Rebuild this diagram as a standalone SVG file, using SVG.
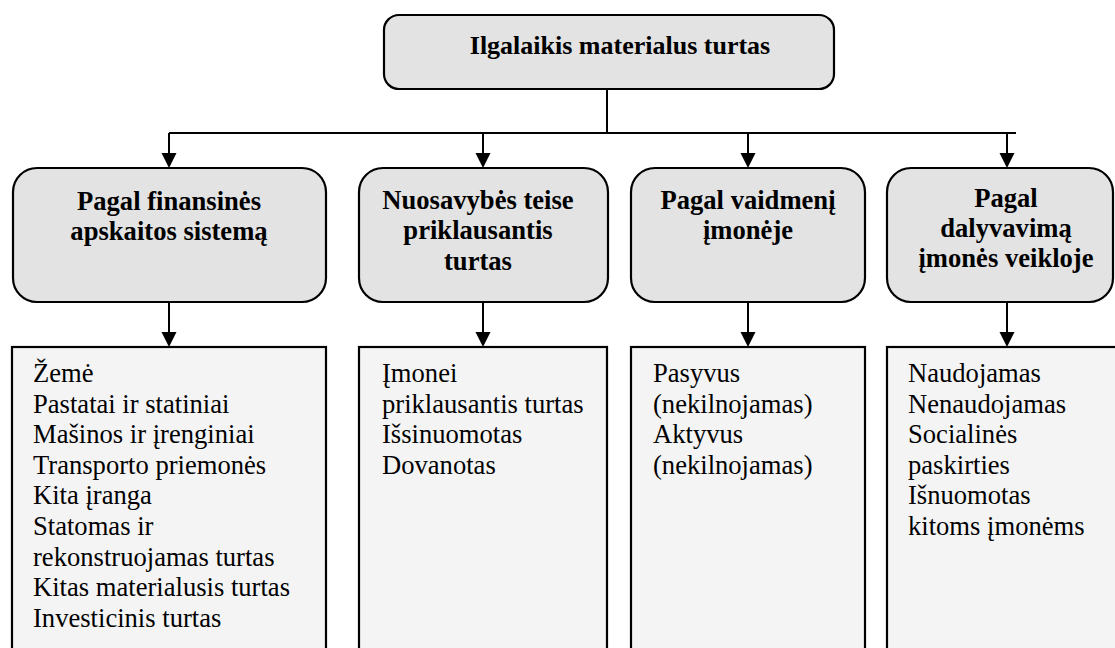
<svg xmlns="http://www.w3.org/2000/svg" width="1115" height="648" viewBox="0 0 1115 648">
  <style>
    .head { fill: #e3e3e3; stroke: #000; stroke-width: 2.2; }
    .list { fill: #f4f4f4; stroke: #000; stroke-width: 2.2; }
    .bold { font-weight: bold; font-size: 26.6px; fill: #000; text-anchor: middle; }
    .title { font-weight: bold; font-size: 26px; fill: #000; text-anchor: middle; }
    .item { font-size: 26.6px; fill: #000; }
    .wire { fill: none; stroke: #000; stroke-width: 2; }
    .tip { fill: #000; stroke: none; }
  </style>
  <defs>
    <!-- downward arrowhead, tip at the origin -->
    <path id="tip" d="M-7.5,-15 L7.5,-15 L0,0 Z"/>
  </defs>

  <!-- connectors -->
  <g id="connectors">
    <g class="wire">
      <path d="M607,89 V133"/>
      <path d="M169,133 H1016"/>
      <path d="M169,133 V156"/>
      <path d="M483,133 V156"/>
      <path d="M748,133 V156"/>
      <path d="M1007,133 V156"/>
      <path d="M169,302 V335"/>
      <path d="M483,302 V335"/>
      <path d="M748,302 V335"/>
      <path d="M1007,302 V335"/>
    </g>
    <g class="tip">
      <use href="#tip" x="169" y="168"/>
      <use href="#tip" x="483" y="168"/>
      <use href="#tip" x="748" y="168"/>
      <use href="#tip" x="1007" y="168"/>
      <use href="#tip" x="169" y="347"/>
      <use href="#tip" x="483" y="347"/>
      <use href="#tip" x="748" y="347"/>
      <use href="#tip" x="1007" y="347"/>
    </g>
  </g>

  <g font-family="'Liberation Serif', 'Times New Roman', serif">
  <!-- root -->
  <g id="root">
    <rect class="head" x="384" y="15" width="450" height="74" rx="15"/>
    <text class="title" x="620" y="54">Ilgalaikis materialus turtas</text>
  </g>

  <!-- category headers -->
  <g id="cat-finance">
    <rect class="head" x="13" y="168" width="313" height="134" rx="24"/>
    <text class="bold" x="169" y="210">Pagal finansinės</text>
    <text class="bold" x="169" y="240">apskaitos sistemą</text>
  </g>
  <g id="cat-ownership">
    <rect class="head" x="359" y="168" width="249" height="134" rx="24"/>
    <text class="bold" x="478" y="209">Nuosavybės teise</text>
    <text class="bold" x="478" y="239">priklausantis</text>
    <text class="bold" x="478" y="270">turtas</text>
  </g>
  <g id="cat-role">
    <rect class="head" x="631" y="168" width="234" height="134" rx="24"/>
    <text class="bold" x="748" y="209">Pagal vaidmenį</text>
    <text class="bold" x="748" y="239">įmonėje</text>
  </g>
  <g id="cat-activity">
    <rect class="head" x="887" y="168" width="226" height="134" rx="24"/>
    <text class="bold" x="1006" y="207">Pagal</text>
    <text class="bold" x="1006" y="237">dalyvavimą</text>
    <text class="bold" x="1006" y="267">įmonės veikloje</text>
  </g>

  <!-- item lists -->
  <g id="list-finance">
    <rect class="list" x="12" y="347" width="314" height="320"/>
    <text class="item" x="33" y="382">Žemė</text>
    <text class="item" x="33" y="412.6">Pastatai ir statiniai</text>
    <text class="item" x="33" y="443.2">Mašinos ir įrenginiai</text>
    <text class="item" x="33" y="473.8">Transporto priemonės</text>
    <text class="item" x="33" y="504.4">Kita įranga</text>
    <text class="item" x="33" y="535">Statomas ir</text>
    <text class="item" x="33" y="565.6">rekonstruojamas turtas</text>
    <text class="item" x="33" y="596.2">Kitas materialusis turtas</text>
    <text class="item" x="33" y="626.8">Investicinis turtas</text>
  </g>
  <g id="list-ownership">
    <rect class="list" x="359" y="347" width="248" height="320"/>
    <text class="item" x="382" y="382">Įmonei</text>
    <text class="item" x="382" y="412.6">priklausantis turtas</text>
    <text class="item" x="382" y="443.2">Išsinuomotas</text>
    <text class="item" x="382" y="473.8">Dovanotas</text>
  </g>
  <g id="list-role">
    <rect class="list" x="631" y="347" width="234" height="320"/>
    <text class="item" x="653" y="382">Pasyvus</text>
    <text class="item" x="653" y="412.6">(nekilnojamas)</text>
    <text class="item" x="653" y="443.2">Aktyvus</text>
    <text class="item" x="653" y="473.8">(nekilnojamas)</text>
  </g>
  <g id="list-activity">
    <rect class="list" x="887" y="347" width="240" height="320"/>
    <text class="item" x="908" y="382">Naudojamas</text>
    <text class="item" x="908" y="412.6">Nenaudojamas</text>
    <text class="item" x="908" y="443.2">Socialinės</text>
    <text class="item" x="908" y="473.8">paskirties</text>
    <text class="item" x="908" y="504.4">Išnuomotas</text>
    <text class="item" x="908" y="535">kitoms įmonėms</text>
  </g>
  </g>
</svg>
